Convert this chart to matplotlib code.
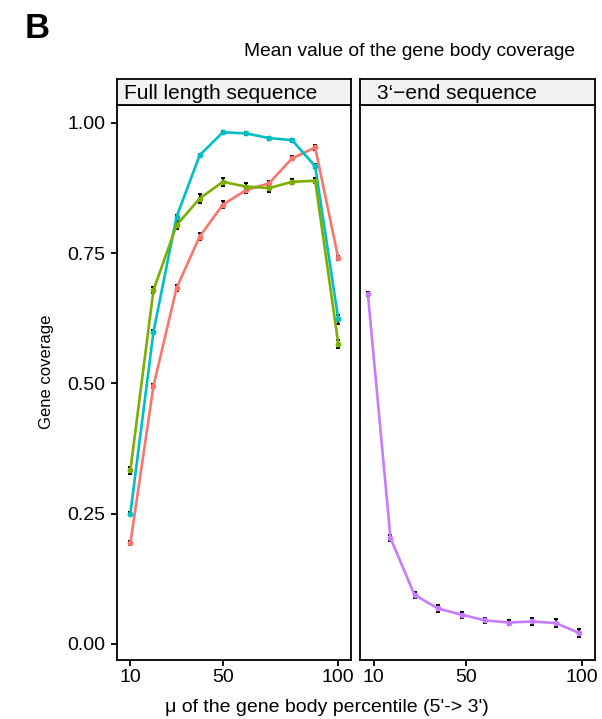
#
# gene body coverage, full length vs 3'-end sequencing
#

import numpy as np
import matplotlib
matplotlib.use('Agg')
import matplotlib.pyplot as plt

plt.rcParams['font.family'] = ['Liberation Sans', 'DejaVu Sans']

# percentile positions
x_full = [10, 20, 30, 40, 50, 60, 70, 80, 90, 100]
x_3end = [7.4, 17.2, 27.6, 37.7, 48, 58.2, 68.5, 78.6, 88.7, 98.8]

# full length sequence panel, three samples
cov_red = [0.193, 0.495, 0.683, 0.782, 0.843, 0.871, 0.884, 0.932, 0.953, 0.740]
cov_green = [0.333, 0.679, 0.804, 0.855, 0.887, 0.878, 0.875, 0.887, 0.889, 0.576]
cov_cyan = [0.250, 0.599, 0.820, 0.938, 0.982, 0.980, 0.971, 0.967, 0.917, 0.623]

# 3'-end sequence panel
cov_purple = [0.672, 0.203, 0.094, 0.068, 0.056, 0.045, 0.041, 0.043, 0.040, 0.021]

# error (half-width of error bars)
err_red = [0.004, 0.004, 0.006, 0.006, 0.007, 0.005, 0.005, 0.004, 0.004, 0.004]
err_green = [0.006, 0.006, 0.008, 0.008, 0.008, 0.006, 0.007, 0.005, 0.005, 0.008]
err_cyan = [0.003, 0.003, 0.004, 0.003, 0.003, 0.003, 0.003, 0.003, 0.004, 0.008]
err_purple = [0.004, 0.006, 0.006, 0.006, 0.006, 0.005, 0.005, 0.006, 0.007, 0.007]

RED = '#F8766D'
GREEN = '#7CAE00'
CYAN = '#00BFC4'
PURPLE = '#C77CFF'

W, H = 602, 719
fig = plt.figure(figsize=(W / 100, H / 100), dpi=100)

def fx(px):
    return px / W

def fy(py):
    return 1 - py / H

panel_top, panel_bot = 105, 659.5
strip_top = 79
lefts = [116.5, 360]
width = 234.5

ax1 = fig.add_axes([fx(lefts[0]), fy(panel_bot), fx(width), (panel_bot - panel_top) / H])
ax2 = fig.add_axes([fx(lefts[1]), fy(panel_bot), fx(width), (panel_bot - panel_top) / H])

def draw(ax, x, y, err, color):
    ax.errorbar(x, y, yerr=err, fmt='none', ecolor='black', elinewidth=1.4,
                capsize=1.2, capthick=1.4, zorder=2)
    ax.plot(x, y, color=color, lw=1.9, marker='o', markersize=3.2, zorder=3)

draw(ax1, x_full, cov_red, err_red, RED)
draw(ax1, x_full, cov_cyan, err_cyan, CYAN)
draw(ax1, x_full, cov_green, err_green, GREEN)
draw(ax2, x_3end, cov_purple, err_purple, PURPLE)

for ax in (ax1, ax2):
    ax.set_xlim(4.0, 105.5)
    ax.set_ylim(-0.030, 1.0345)
    ax.set_xticks([10, 50, 100])
    ax.set_xticklabels(['10', '50', '100'])
    for sp in ax.spines.values():
        sp.set_linewidth(1.3)
        sp.set_color('black')
    ax.tick_params(axis='x', length=4, width=1.3, labelsize=14, pad=3, color='black')
    ax.tick_params(axis='y', length=4, width=1.3, labelsize=14, pad=4, color='black')

ax1.set_yticks([0.0, 0.25, 0.5, 0.75, 1.0])
ax1.set_yticklabels(['0.00', '0.25', '0.50', '0.75', '1.00'])
ax2.set_yticks([])

# facet strips
strip_labels = ['Full length sequence', '3‘−end sequence']
strip_pad = [7, 17]
for left, lab, pad in zip(lefts, strip_labels, strip_pad):
    sax = fig.add_axes([fx(left), fy(panel_top), fx(width), (panel_top - strip_top) / H])
    sax.set_facecolor('#f2f2f2')
    sax.set_xticks([])
    sax.set_yticks([])
    for sp in sax.spines.values():
        sp.set_linewidth(1.3)
    sax.text(pad / width, 0.45, lab, fontsize=15, ha='left', va='center',
             transform=sax.transAxes)

fig.text(fx(25), fy(28), 'B', fontsize=25, fontweight='bold', ha='left', va='center')
fig.text(fx(409), fy(52), 'Mean value of the gene body coverage', fontsize=13.8,
         ha='center', va='center')
fig.text(fx(327), fy(708), "μ of the gene body percentile (5'-> 3')", fontsize=14,
         ha='center', va='center')
fig.text(fx(46), fy(372), 'Gene coverage', fontsize=12, rotation=90,
         ha='center', va='center')

fig.savefig('out.png', dpi=100)
plt.close()
